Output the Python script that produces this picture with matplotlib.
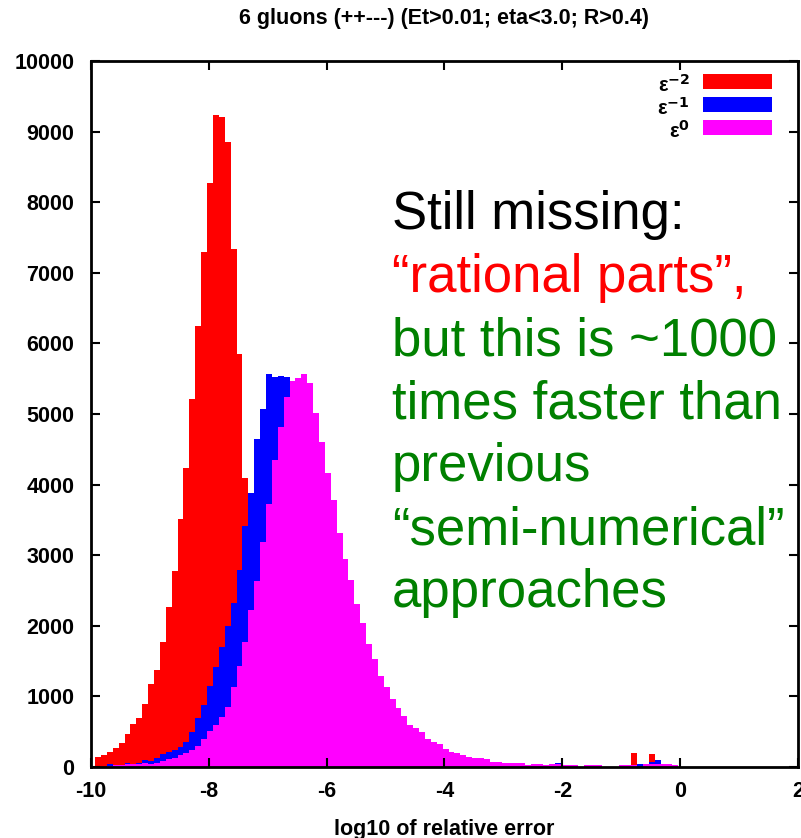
import numpy as np
import matplotlib
matplotlib.use("Agg")
import matplotlib.pyplot as plt
from matplotlib.patches import Rectangle

plt.rcParams['font.family'] = ['Liberation Sans', 'DejaVu Sans']
plt.rcParams['font.weight'] = 'bold'
plt.rcParams['axes.unicode_minus'] = False

# --- histogram data: bins of width 0.1 in log10(relative error) ---
bin_start = np.round(np.arange(-9.9, -0.05, 0.1), 1)   # -9.9 ... -0.1
BOX_SHIFT = -0.03    # gnuplot boxes sit slightly left of the bin label

counts_eps2 = [  # red, eps^-2
    140, 170, 212, 269, 337, 467, 609, 694, 892, 1176,
    1374, 1766, 2273, 2776, 3508, 4231, 5215, 6246, 7290, 8272,
    9231, 9203, 8848, 7333, 5854, 4093, 3000, 2100, 1400, 900,
    600, 400, 260, 170, 110, 70, 45, 30, 20, 12,
    8, 5, 3, 2, 1, 0, 0, 0, 0, 0,
    0, 0, 0, 0, 0, 0, 0, 0, 0, 0,
    0, 0, 0, 0, 0, 0, 0, 0, 0, 0,
    0, 0, 0, 0, 0, 0, 0, 0, 0, 0,
    0, 0, 0, 0, 0, 0, 0, 0, 0, 0,
    0, 200, 0, 0, 184, 0, 0, 0, 0,
]
counts_eps1 = [  # blue, eps^-1
    0, 0, 38, 20, 20, 61, 35, 57, 94, 85,
    132, 189, 217, 241, 279, 349, 491, 700, 880, 1150,
    1420, 1700, 2000, 2330, 2786, 3418, 3877, 4646, 5075, 5567,
    5530, 5540, 5520, 5400, 5300, 5100, 4800, 4400, 4000, 3600,
    3200, 2800, 2500, 2200, 1900, 1650, 1400, 1200, 1000, 850,
    720, 600, 500, 420, 350, 300, 250, 210, 180, 150,
    120, 100, 85, 70, 60, 50, 40, 35, 30, 25,
    20, 20, 15, 15, 15, 10, 10, 10, 55, 10,
    8, 8, 0, 8, 8, 5, 0, 0, 0, 5,
    5, 0, 42, 30, 75, 99, 20, 15, 10,
]
counts_eps0 = [  # magenta, eps^0
    0, 5, 10, 28, 28, 38, 38, 38, 61, 45,
    61, 85, 109, 123, 170, 203, 236, 300, 400, 510,
    600, 712, 854, 1129, 1430, 1771, 2224, 2630, 3191, 3725,
    4348, 4820, 5236, 5472, 5505, 5567, 5443, 5018, 4599, 4169,
    3782, 3310, 2946, 2655, 2304, 2035, 1742, 1525, 1289, 1129,
    963, 836, 722, 602, 552, 496, 397, 354, 326, 255,
    212, 198, 170, 142, 127, 127, 113, 71, 71, 57,
    57, 57, 57, 35, 47, 47, 35, 42, 42, 33,
    33, 33, 0, 30, 30, 30, 0, 0, 0, 30,
    30, 33, 0, 40, 40, 42, 42, 42, 33,
]

series = [
    (r'ε$^{-2}$', counts_eps2, '#ff0000'),
    (r'ε$^{-1}$', counts_eps1, '#0000ff'),
    (r'ε$^{0}$', counts_eps0, '#ff00ff'),
]

x_ticks = [-10, -8, -6, -4, -2, 0, 2]
y_ticks = [0, 1000, 2000, 3000, 4000, 5000, 6000, 7000, 8000, 9000, 10000]

fig = plt.figure(figsize=(8.01, 8.38), dpi=100)
ax = fig.add_axes([0.1136, 0.0847, 0.8826, 0.8425])

edges = np.append(bin_start, bin_start[-1] + 0.1) + BOX_SHIFT
for label, counts, color in series:
    ax.stairs(counts, edges, fill=True, color=color, linewidth=0)

ax.set_xlim(-10, 2)
ax.set_ylim(0, 10000)
ax.set_xticks(x_ticks)
ax.set_yticks(y_ticks)
ax.tick_params(direction='in', length=6.5, width=1.5, top=True, right=True,
               labelsize=15.5)
ax.tick_params(axis='y', pad=12)
ax.tick_params(axis='x', pad=10)
for s in ax.spines.values():
    s.set_linewidth(2)

ax.set_xlabel('log10 of relative error', fontsize=15.5, fontweight='bold', labelpad=12)
ax.set_title('6 gluons (++---) (Et>0.01; eta<3.0; R>0.4)', fontsize=15.5,
             fontweight='bold', pad=27)

# key in the top right corner (gnuplot style: label then colour box)
for i, (label, counts, color) in enumerate(series):
    y0 = 0.9603 - i * 0.0326
    ax.add_patch(Rectangle((0.8656, y0), 0.0976, 0.0213, transform=ax.transAxes,
                           facecolor=color, edgecolor='none', zorder=5))
    ax.text(0.847, y0 - 0.004, label, transform=ax.transAxes, ha='right',
            va='baseline', fontsize=14.5, zorder=5)

# slide annotation on top of the plot
notes = [
    ('Still missing:', 'black'),
    ('\u201crational parts\u201d,', '#ff0000'),
    ('but this is ~1000', '#008000'),
    ('times faster than', '#008000'),
    ('previous', '#008000'),
    ('\u201csemi-numerical\u201d', '#008000'),
    ('approaches', '#008000'),
]
for i, (txt, color) in enumerate(notes):
    y_px = 229 + i * 63
    fig.text(392 / 801, 1 - y_px / 838, txt, color=color, fontsize=38,
             fontweight='normal', ha='left', va='baseline')

fig.savefig('out.png', dpi=100)
